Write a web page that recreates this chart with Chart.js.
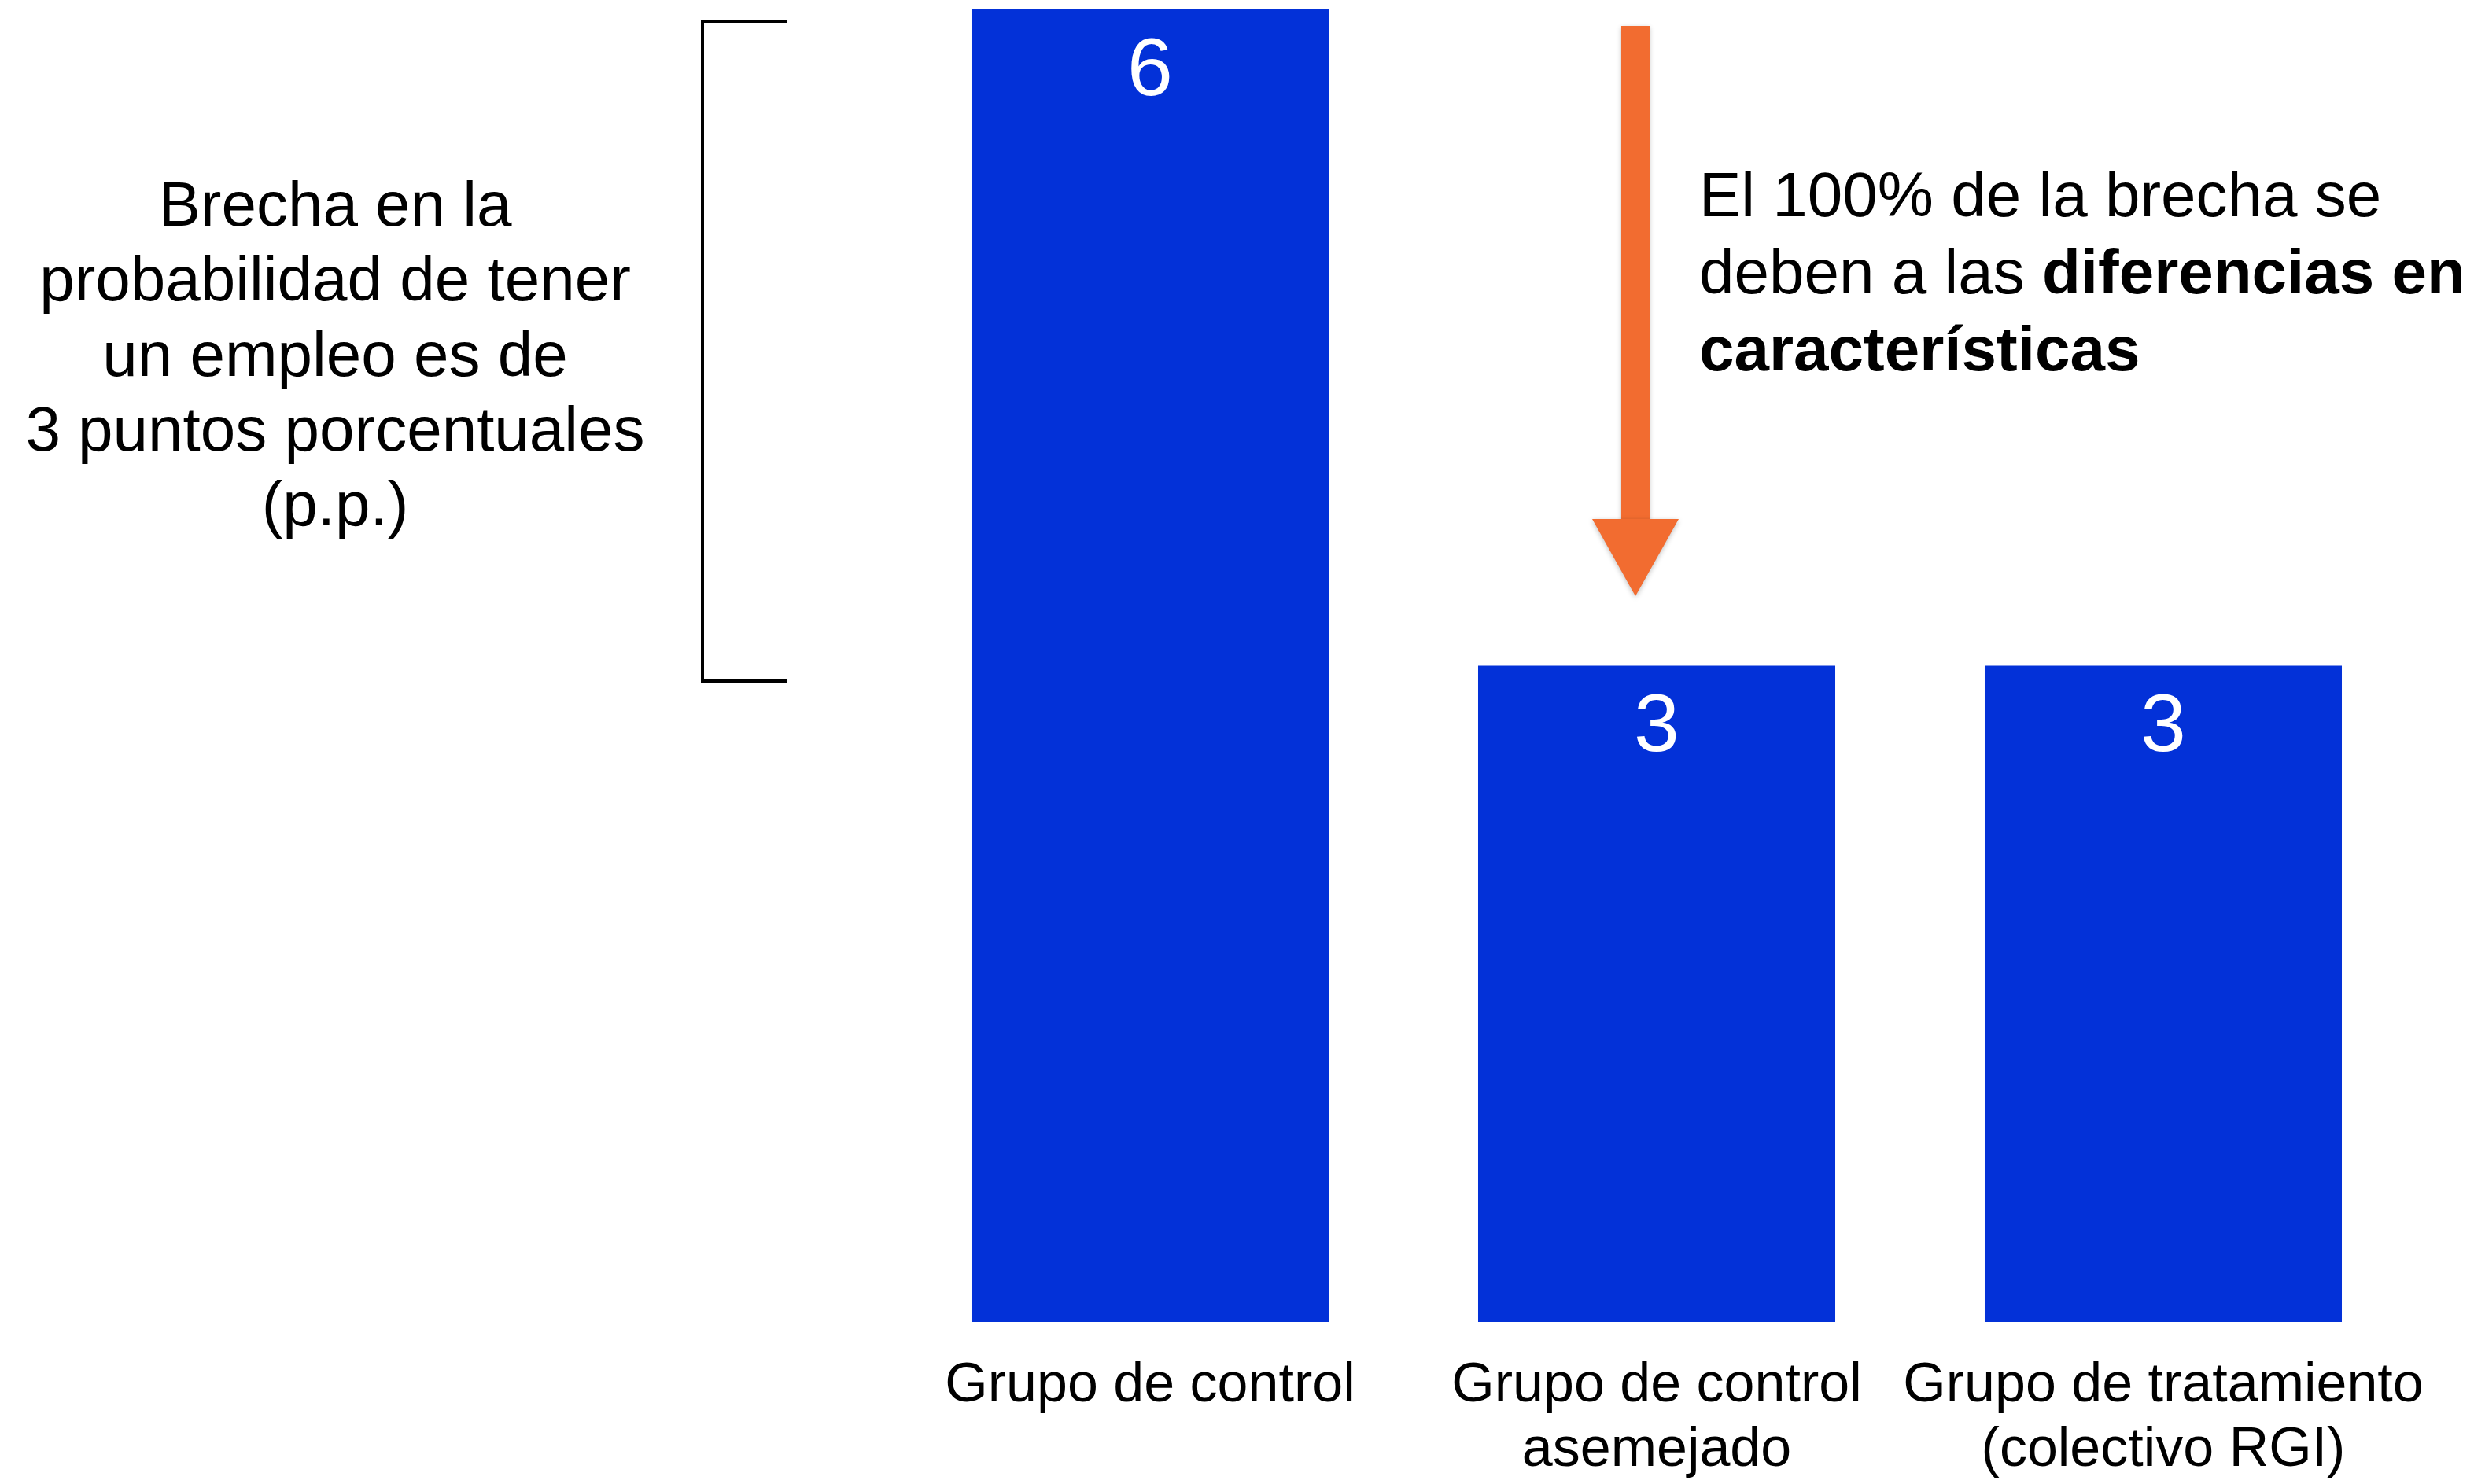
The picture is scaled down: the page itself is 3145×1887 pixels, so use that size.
<!DOCTYPE html>
<html>
<head>
<meta charset="utf-8">
<script src="https://cdn.jsdelivr.net/npm/chart.js@4.4.0/dist/chart.umd.min.js"></script>
<style>
html, body { margin: 0; padding: 0; background: #ffffff; }
#wrap { width: 3145px; height: 1887px; position: relative; }
</style>
</head>
<body>
<div id="wrap"><canvas id="one" width="3145" height="1887"></canvas></div>
<script>

// data
var categories = [["Grupo de control"], ["Grupo de control", "asemejado"], ["Grupo de tratamiento", "(colectivo RGI)"]];
var values = [6, 3, 3];
var valueLabels = ["6", "3", "3"];

var gapText = ["Brecha en la", "probabilidad de tener", "un empleo es de", "3 puntos porcentuales", "(p.p.)"];
var noteLine1 = "El 100% de la brecha se";
var noteLine2a = "deben a las ";
var noteLine2b = "diferencias en";
var noteLine3 = "características";

var barColor = "#0331d8";
var arrowColor = "#f26c30";
var fontName = "'Liberation Sans', Arial, Helvetica, sans-serif";

// white numbers inside the top of each bar
var valuePlugin = {
    id: 'valueLabels',
    afterDatasetsDraw: function(chart){
        var ctx = chart.ctx;
        var meta = chart.getDatasetMeta(0);
        ctx.save();
        ctx.fillStyle = "#ffffff";
        ctx.font = "104px " + fontName;
        ctx.textAlign = "center";
        ctx.textBaseline = "middle";
        for(var i = 0; i < meta.data.length; i++){
            var bar = meta.data[i];
            ctx.fillText(valueLabels[i], bar.x, bar.y + 80);
        }
        ctx.restore();
    }
};

// bracket, arrow and the two texts
var notesPlugin = {
    id: 'notes',
    afterDraw: function(chart){
        var ctx = chart.ctx;
        ctx.save();

        // bracket
        ctx.strokeStyle = "#000000";
        ctx.lineWidth = 4;
        ctx.beginPath();
        ctx.moveTo(1001, 27);
        ctx.lineTo(893, 27);
        ctx.lineTo(893, 866);
        ctx.lineTo(1001, 866);
        ctx.stroke();

        // left text
        ctx.fillStyle = "#000000";
        ctx.font = "80px " + fontName;
        ctx.textAlign = "center";
        ctx.textBaseline = "alphabetic";
        for(var i = 0; i < gapText.length; i++){
            ctx.fillText(gapText[i], 426, 287 + i * 95.3);
        }

        // arrow
        ctx.fillStyle = arrowColor;
        ctx.shadowColor = "rgba(0,0,0,0.25)";
        ctx.shadowBlur = 6;
        ctx.shadowOffsetY = 2;
        ctx.fillRect(2061, 33, 36, 630);
        ctx.beginPath();
        ctx.moveTo(2024, 660);
        ctx.lineTo(2134, 660);
        ctx.lineTo(2079, 758);
        ctx.closePath();
        ctx.fill();
        ctx.shadowColor = "transparent";

        // right text
        ctx.fillStyle = "#000000";
        ctx.textAlign = "left";
        ctx.font = "80px " + fontName;
        ctx.fillText(noteLine1, 2160, 275);
        ctx.fillText(noteLine2a, 2160, 373);
        var w = ctx.measureText(noteLine2a).width;
        ctx.font = "bold 80px " + fontName;
        ctx.fillText(noteLine2b, 2160 + w, 373);
        ctx.fillText(noteLine3, 2160, 471);

        ctx.restore();
    }
};

var ctx = document.getElementById('one').getContext('2d');
var myChart = new Chart(ctx, {
    type: 'bar',
    data: {
        labels: categories,
        datasets: [{
            label: 'Brecha',
            data: values,
            backgroundColor: barColor,
            borderWidth: 0,
            categoryPercentage: 1,
            barPercentage: 0.705
        }]
    },
    options: {
        responsive: false,
        animation: false,
        devicePixelRatio: 1,
        layout: {
            padding: { left: 1140, right: 73, top: 12, bottom: 0 }
        },
        plugins: {
            legend: { display: false },
            tooltip: { enabled: false }
        },
        scales: {
            x: {
                grid: { display: false },
                border: { display: false },
                ticks: {
                    color: "#000000",
                    font: { size: 70, family: fontName, lineHeight: 82 / 70 },
                    padding: 33,
                    maxRotation: 0,
                    autoSkip: false
                },
                afterFit: function(scale){
                    scale.height = 206;
                }
            },
            y: {
                display: false,
                min: 0,
                max: 6
            }
        }
    },
    plugins: [valuePlugin, notesPlugin]
});

</script>
</body>
</html>
